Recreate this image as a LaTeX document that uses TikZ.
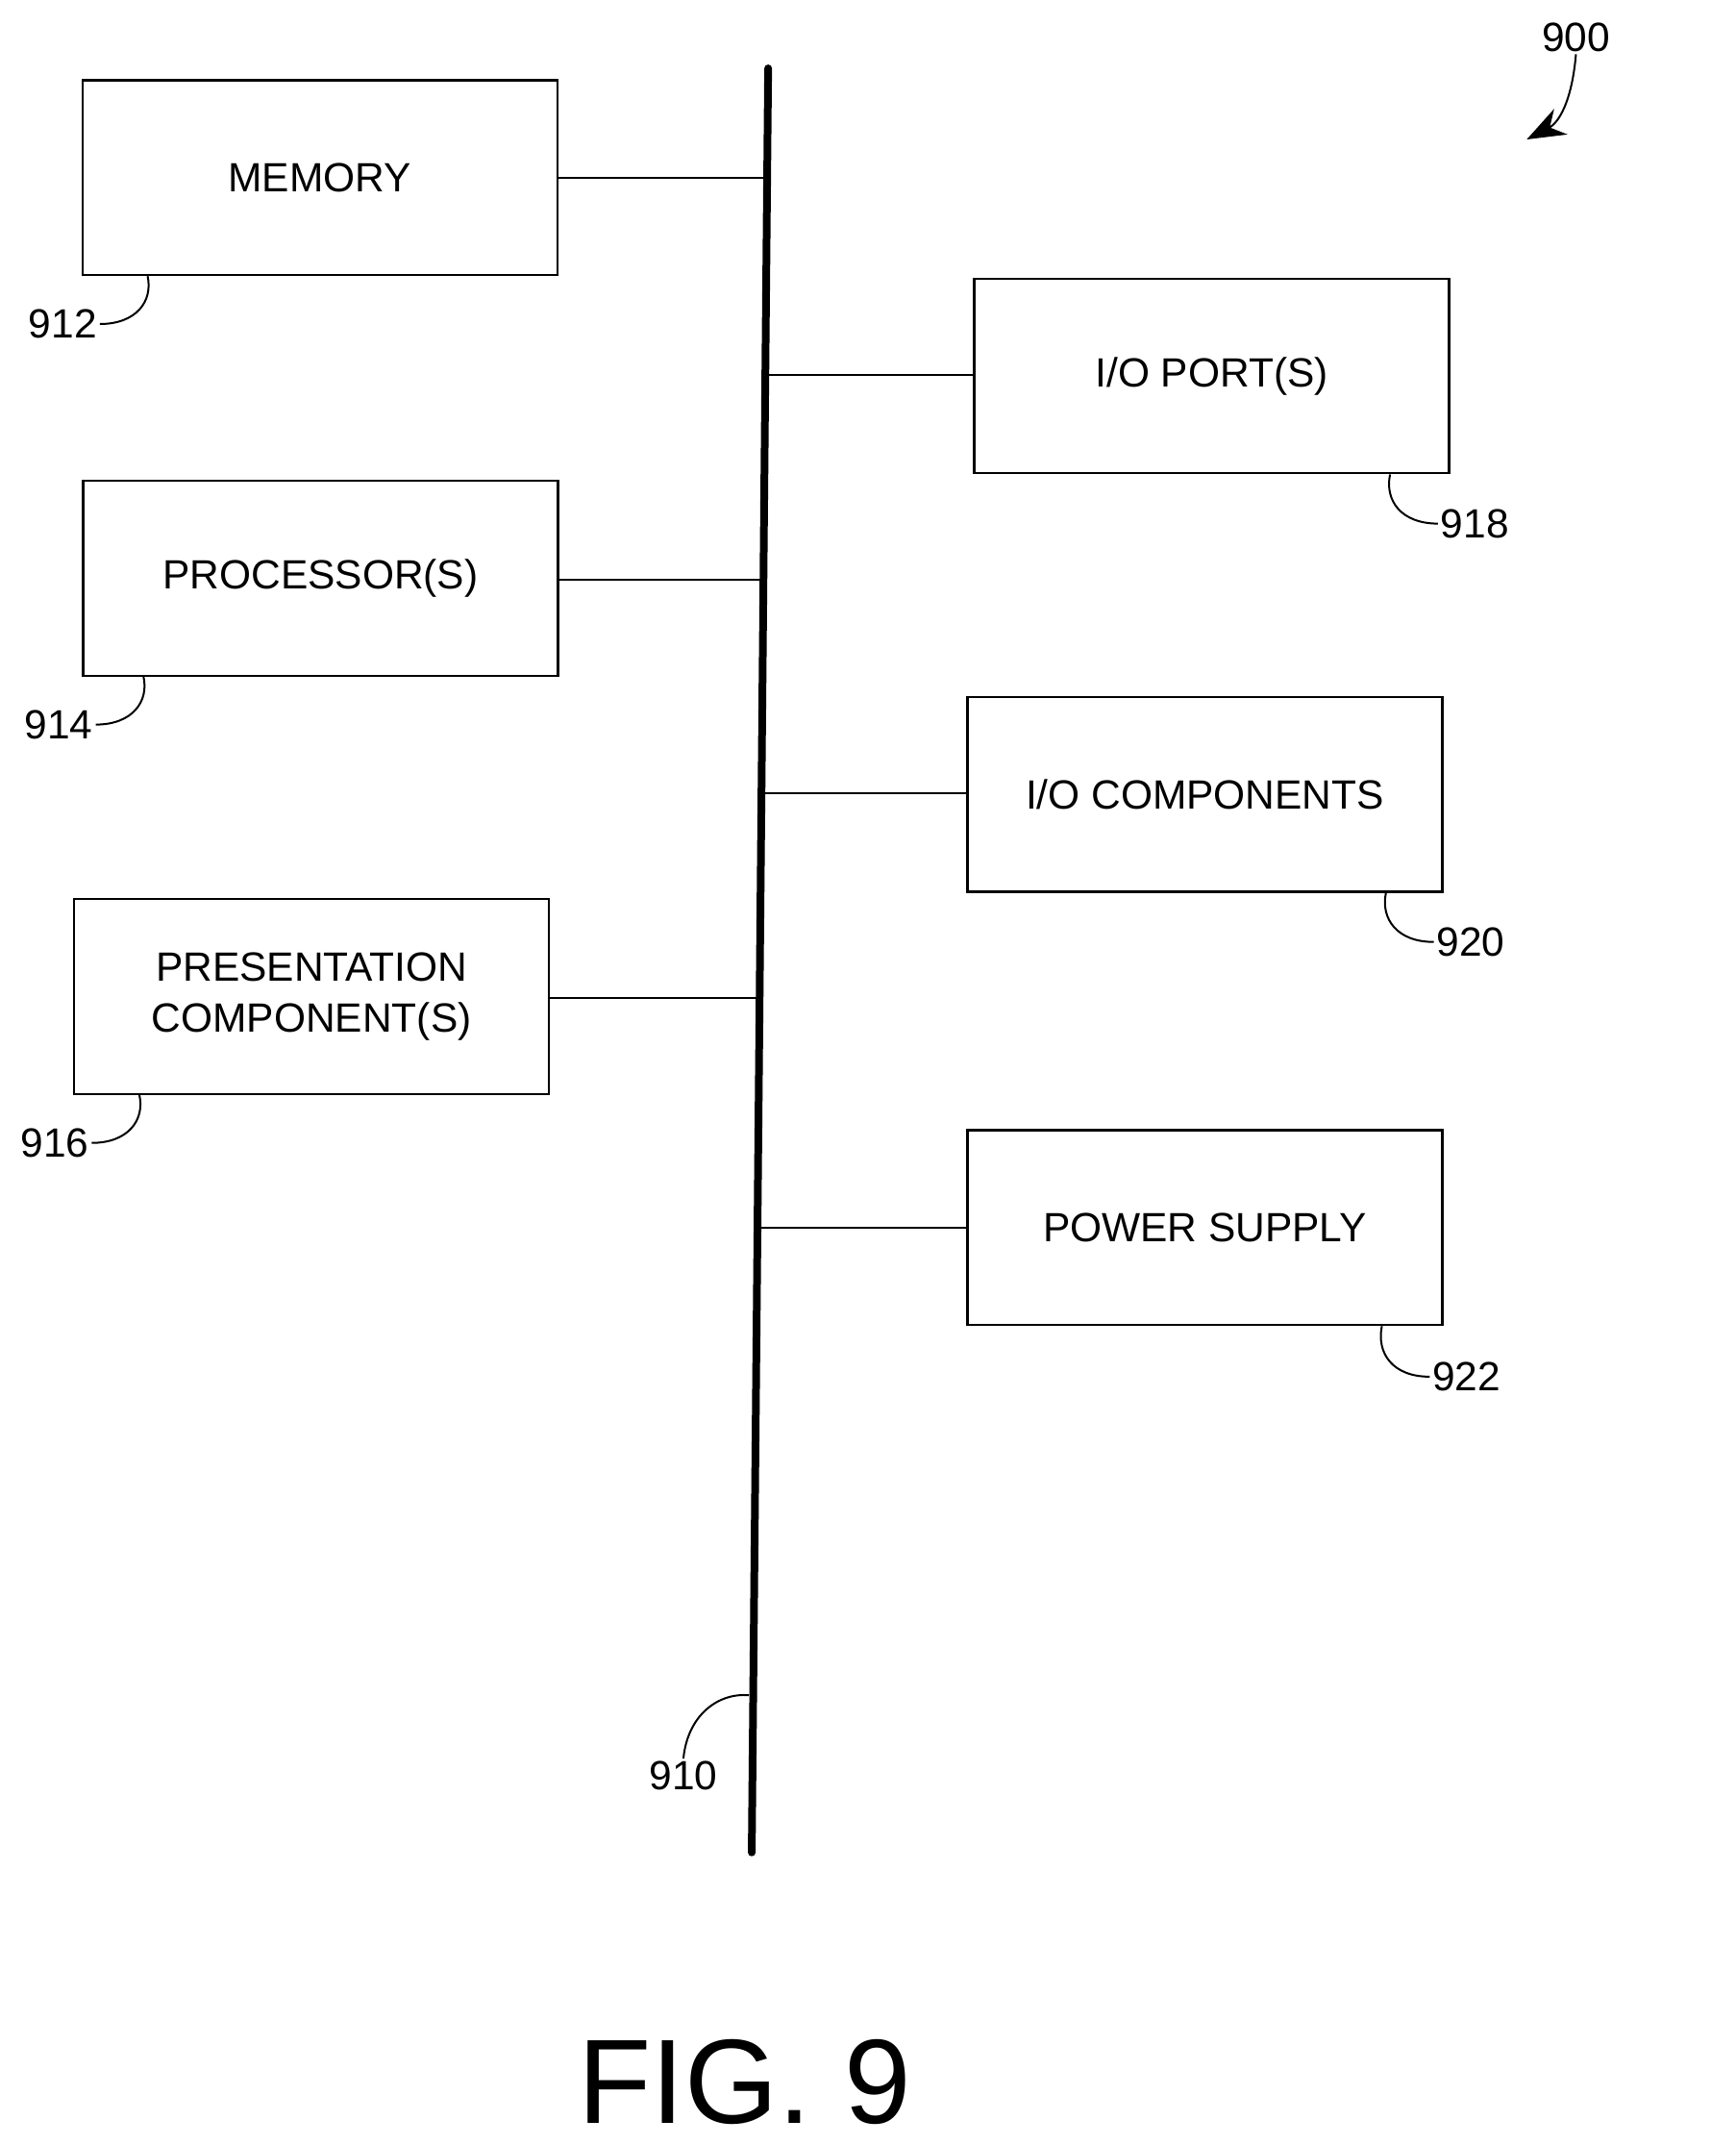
\documentclass[tikz,border=0pt]{standalone}
\usepackage{fontspec}
\setmainfont{Liberation Sans}
\usetikzlibrary{positioning, arrows.meta}
\begin{document}
\begin{tikzpicture}[
    x=0.02cm, y=-0.02cm,
    font=\fontsize{17}{21}\selectfont,
    block/.style={
        rectangle,
        draw=black,
        line width=0.9pt,
        minimum width=6.95cm,
        minimum height=2.85cm,
        align=center
    },
    link/.style={line width=0.8pt},
    lead/.style={line width=0.8pt},
    ref/.style={font=\fontsize{17}{21}\selectfont, inner sep=1pt}
]
\useasboundingbox (0,0) rectangle (1270,1569);

% Bus
\coordinate (bustop) at (562,50);
\coordinate (busbot) at (550,1355);
\draw[line width=3.2pt, line cap=round] (bustop) -- (busbot);

% Blocks
\node[block] (mem) at (234,130) {MEMORY};
\node[block] (proc) at (234.5,423) {PROCESSOR(S)};
\node[block] (pres) at (228,729) {PRESENTATION\\COMPONENT(S)};
\node[block] (ioport) at (886.5,275) {I/O PORT(S)};
\node[block] (iocomp) at (881.5,581) {I/O COMPONENTS};
\node[block] (power) at (881.5,898) {POWER SUPPLY};

% Taps on the bus
\coordinate (b1) at (561.3,130);
\coordinate (b2) at (559.9,274);
\coordinate (b3) at (558.6,424);
\coordinate (b4) at (557.1,580);
\coordinate (b5) at (555.7,730);
\coordinate (b6) at (554.2,898);

\draw[link] (mem.east |- b1) -- (b1);
\draw[link] (b2) -- (ioport.west |- b2);
\draw[link] (proc.east |- b3) -- (b3);
\draw[link] (b4) -- (iocomp.west |- b4);
\draw[link] (pres.east |- b5) -- (b5);
\draw[link] (b6) -- (power.west |- b6);

% Reference numerals
\node[ref] (n912) at (46,237) {912};
\node[ref] (n914) at (43,530) {914};
\node[ref] (n916) at (40,836) {916};
\node[ref] (n918) at (1079,383) {918};
\node[ref] (n920) at (1076,689) {920};
\node[ref] (n922) at (1073,1007) {922};
\node[ref] (n910) at (500,1299) {910};
\node[ref] (n900) at (1153,27) {900};

\draw[lead] (n912.east) .. controls (100,237) and (112,220) .. (108,202);
\draw[lead] (n914.east) .. controls (97,530) and (109,513) .. (105,495);
\draw[lead] (n916.east) .. controls (94,836) and (106,819) .. (102,801);
\draw[lead] (n918.west) .. controls (1025,383) and (1013,366) .. (1017,347);
\draw[lead] (n920.west) .. controls (1022,689) and (1010,672) .. (1014,653);
\draw[lead] (n922.west) .. controls (1019,1007) and (1007,990) .. (1011,970);
\draw[lead] (n910.north) .. controls (503,1255) and (525,1238) .. (548,1240);
\draw[lead, -{Stealth[length=16pt, width=12pt]}] (n900.south) .. controls (1150,75) and (1140,90) .. (1117,102);

% Figure caption
\node[font=\fontsize{50}{60}\selectfont] (fig) at (545,1523) {FIG. 9};
\end{tikzpicture}
\end{document}
